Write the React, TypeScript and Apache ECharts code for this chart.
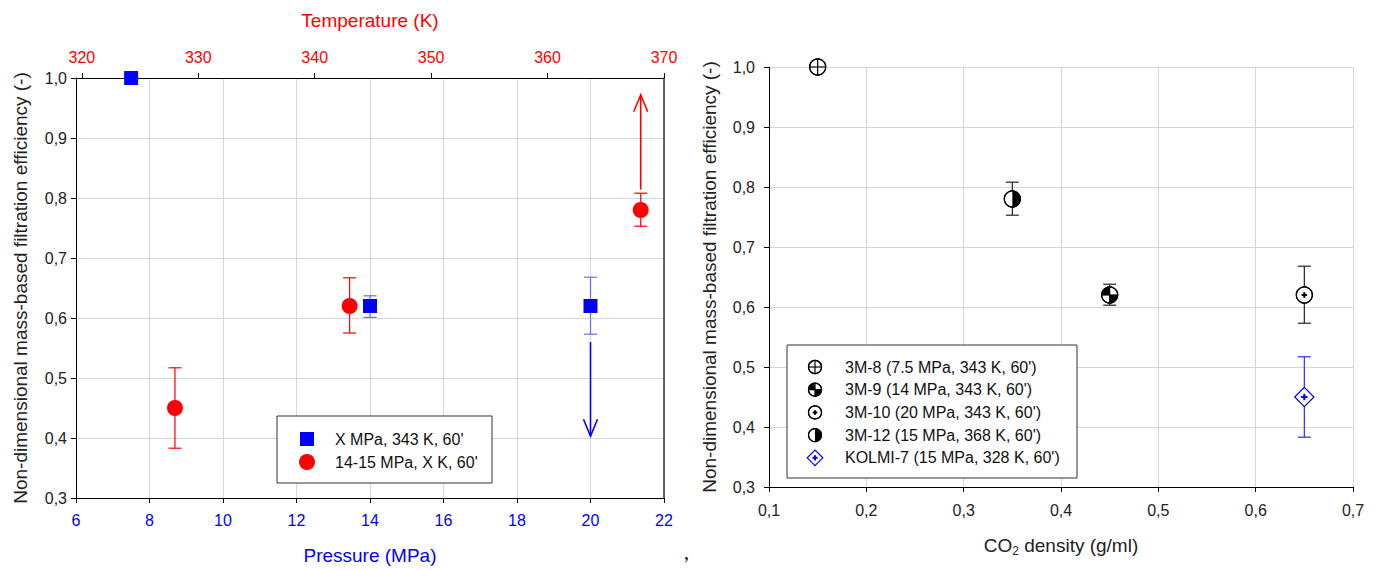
import React, { useEffect, useRef } from 'react';
import * as echarts from 'echarts';

// ---------- Left chart data ----------
const pressureTickMin = 6;
const pressureTickMax = 22;
const temperatureTicks = [320, 330, 340, 350, 360, 370];
const efficiencyMin = 0.3;
const efficiencyMax = 1.0;

// Series "X MPa, 343 K, 60'" (bottom axis: pressure)
const pressureX = [7.5, 14, 20];
const pressureY = [1.0, 0.62, 0.62];
const pressureErrLow: (number | null)[] = [null, 0.601, 0.573];
const pressureErrHigh: (number | null)[] = [null, 0.637, 0.668];

// Series "14-15 MPa, X K, 60'" (top axis: temperature)
const tempX = [328, 343, 368];
const tempY = [0.45, 0.62, 0.78];
const tempErrLow = [0.383, 0.575, 0.753];
const tempErrHigh = [0.517, 0.667, 0.808];

// Trend arrows [x, from, to]
const arrowTemp = [368, 0.814, 0.972];
const arrowPressure = [20, 0.56, 0.403];

// ---------- Right chart data ----------
const sampleNames = [
  "3M-8 (7.5 MPa, 343 K, 60')",
  "3M-9 (14 MPa, 343 K, 60')",
  "3M-10 (20 MPa, 343 K, 60')",
  "3M-12 (15 MPa, 368 K, 60')",
  "KOLMI-7 (15 MPa, 328 K, 60')",
];
const densityX = [0.15, 0.45, 0.65, 0.35, 0.65];
const densityY = [1.0, 0.62, 0.62, 0.78, 0.45];
const densityErrLow: (number | null)[] = [null, 0.603, 0.573, 0.753, 0.383];
const densityErrHigh: (number | null)[] = [null, 0.638, 0.668, 0.808, 0.517];
const markerKinds = ['cross', 'quad', 'dot', 'half', 'diamond'];

const FONT = '"Liberation Sans", Arial, sans-serif';
const BLUE = '#0000ff';
const RED = '#ff0000';
const GRID_COLOR = '#d6d6d6';

const comma = (v: number) => v.toFixed(1).replace('.', ',');

function errorBarEls(x: number, y1: number, y2: number, half: number, color: string) {
  const st = { stroke: color, lineWidth: 1.2 };
  return [
    { type: 'line', shape: { x1: x, y1, x2: x, y2 }, style: st },
    { type: 'line', shape: { x1: x - half, y1, x2: x + half, y2: y1 }, style: st },
    { type: 'line', shape: { x1: x - half, y1: y2, x2: x + half, y2 }, style: st },
  ];
}

function markerEls(kind: string, cx: number, cy: number, r: number): any[] {
  const k = '#000';
  const lw = 1.2;
  const circle = { type: 'circle', shape: { cx, cy, r }, style: { fill: '#fff', stroke: k, lineWidth: lw } };
  const outline = { type: 'circle', shape: { cx, cy, r }, style: { fill: 'none', stroke: k, lineWidth: lw } };
  const cross = [
    { type: 'line', shape: { x1: cx - r, y1: cy, x2: cx + r, y2: cy }, style: { stroke: k, lineWidth: lw } },
    { type: 'line', shape: { x1: cx, y1: cy - r, x2: cx, y2: cy + r }, style: { stroke: k, lineWidth: lw } },
  ];
  const sector = (s: number, e: number) => ({
    type: 'sector',
    shape: { cx, cy, r0: 0, r, startAngle: s, endAngle: e, clockwise: true },
    style: { fill: k },
  });
  const plus = (color: string, a: number) => [
    { type: 'rect', shape: { x: cx - a, y: cy - 1, width: 2 * a, height: 2 }, style: { fill: color } },
    { type: 'rect', shape: { x: cx - 1, y: cy - a, width: 2, height: 2 * a }, style: { fill: color } },
  ];
  switch (kind) {
    case 'cross':
      return [circle, ...cross, outline];
    case 'quad':
      return [circle, sector(Math.PI, Math.PI * 1.5), sector(0, Math.PI / 2), ...cross, outline];
    case 'dot':
      return [circle, ...plus(k, r * 0.35), outline];
    case 'half':
      return [circle, sector(-Math.PI / 2, Math.PI / 2), outline];
    case 'diamond': {
      const d = r * 1.2;
      return [
        {
          type: 'polygon',
          shape: { points: [[cx, cy - d], [cx + d, cy], [cx, cy + d], [cx - d, cy]] },
          style: { fill: '#fff', stroke: BLUE, lineWidth: lw },
        },
        ...plus(BLUE, r * 0.4),
      ];
    }
  }
  return [circle];
}

function arrowEls(x: number, y0: number, y1: number, color: string) {
  const dir = y1 > y0 ? 1 : -1;
  const st = { stroke: color, lineWidth: 1.6, fill: 'none' };
  return [
    { type: 'line', shape: { x1: x, y1: y0, x2: x, y2: y1 }, style: st },
    {
      type: 'polyline',
      shape: { points: [[x - 7, y1 - dir * 17], [x, y1], [x + 7, y1 - dir * 17]] },
      style: st,
    },
  ];
}

export default function App() {
  const ref = useRef<HTMLDivElement>(null);
  useEffect(() => {
    if (!ref.current) return;
    const chart = echarts.init(ref.current, undefined, { renderer: 'svg' });

    const tickLabel = (color: string, margin: number) => ({
      color,
      fontSize: 16,
      fontFamily: FONT,
      margin,
    });
    const axisLine = { show: true, lineStyle: { color: '#000', width: 1 } };
    const axisTick = { show: true, inside: false, length: 5, lineStyle: { color: '#000' } };
    const splitLine = { show: true, lineStyle: { color: GRID_COLOR, width: 1 } };
    const nameStyle = (color: string) => ({ color, fontSize: 19, fontFamily: FONT });

    const leftLegend = {
      type: 'group',
      z: 100,
      children: [
        { type: 'rect', z: 100, shape: { x: 277, y: 416, width: 215, height: 67 }, style: { fill: '#fff', stroke: '#333', lineWidth: 1 } },
        { type: 'rect', z: 101, shape: { x: 300, y: 432, width: 14, height: 14 }, style: { fill: BLUE } },
        { type: 'circle', z: 101, shape: { cx: 307, cy: 462, r: 8 }, style: { fill: RED } },
        { type: 'text', z: 101, x: 335, y: 439, style: { text: "X MPa, 343 K, 60'", font: `16px ${FONT}`, fill: '#111', verticalAlign: 'middle' } },
        { type: 'text', z: 101, x: 335, y: 462, style: { text: "14-15 MPa, X K, 60'", font: `16px ${FONT}`, fill: '#111', verticalAlign: 'middle' } },
      ],
    };

    const rightLegendChildren: any[] = [
      { type: 'rect', z: 100, shape: { x: 787, y: 345, width: 290, height: 133 }, style: { fill: '#fff', stroke: '#333', lineWidth: 1 } },
    ];
    sampleNames.forEach((name, i) => {
      const cy = 367 + i * 22.7;
      rightLegendChildren.push(...markerEls(markerKinds[i], 815, cy, 6.5).map((e) => ({ ...e, z: 101 })));
      rightLegendChildren.push({
        type: 'text', z: 101, x: 845, y: cy,
        style: { text: name, font: `16px ${FONT}`, fill: '#111', verticalAlign: 'middle' },
      });
    });

    chart.setOption({
      animation: false,
      backgroundColor: '#fff',
      grid: [
        { left: 76, top: 78, width: 588, height: 421 },
        { left: 769, top: 67, width: 584, height: 420 },
      ],
      xAxis: [
        {
          type: 'value', gridIndex: 0, position: 'bottom',
          min: pressureTickMin, max: pressureTickMax, interval: 2,
          axisLine, axisTick, splitLine,
          axisLabel: tickLabel(BLUE, 14),
          name: 'Pressure (MPa)', nameLocation: 'middle', nameGap: 48,
          nameTextStyle: nameStyle(BLUE),
        },
        {
          type: 'value', gridIndex: 0, position: 'top',
          min: 319.5, max: 370,
          axisLine, splitLine: { show: false },
          axisTick: { ...axisTick, customValues: temperatureTicks },
          axisLabel: { ...tickLabel(RED, 13), customValues: temperatureTicks },
          name: 'Temperature (K)', nameLocation: 'middle', nameGap: 48,
          nameTextStyle: nameStyle(RED),
        },
        {
          type: 'value', gridIndex: 1, position: 'bottom',
          min: 0.1, max: 0.7, interval: 0.1,
          axisLine, axisTick, splitLine,
          axisLabel: { ...tickLabel('#222', 15), formatter: comma },
          name: 'CO{sub|2} density (g/ml)', nameLocation: 'middle', nameGap: 46,
          nameTextStyle: {
            ...nameStyle('#222'),
            rich: { sub: { fontSize: 12, fontFamily: FONT, color: '#222', padding: [12, 0, 0, 0] } },
          },
        },
      ],
      yAxis: [
        {
          type: 'value', gridIndex: 0, position: 'left',
          min: efficiencyMin, max: efficiencyMax, interval: 0.1,
          axisLine, axisTick, splitLine,
          axisLabel: { ...tickLabel('#222', 9), formatter: comma },
          name: 'Non-dimensional mass-based filtration efficiency (-)', nameLocation: 'middle', nameGap: 46,
          nameTextStyle: nameStyle('#222'),
        },
        {
          type: 'value', gridIndex: 0, position: 'right',
          min: efficiencyMin, max: efficiencyMax,
          axisLine: { show: true, lineStyle: { color: '#333', width: 1.5 } },
          axisTick: { show: false }, axisLabel: { show: false }, splitLine: { show: false },
        },
        {
          type: 'value', gridIndex: 1, position: 'left',
          min: efficiencyMin, max: efficiencyMax, interval: 0.1,
          axisLine, axisTick, splitLine,
          axisLabel: { ...tickLabel('#222', 14), formatter: comma },
          name: 'Non-dimensional mass-based filtration efficiency (-)', nameLocation: 'middle', nameGap: 50,
          nameTextStyle: nameStyle('#222'),
        },
      ],
      series: [
        {
          type: 'custom', name: "X MPa, 343 K, 60'", xAxisIndex: 0, yAxisIndex: 0,
          encode: { x: 0, y: 1 }, z: 5,
          data: pressureX.map((x, i) => [x, pressureY[i]]),
          renderItem: (params: any, api: any) => {
            const i = params.dataIndex;
            const x = api.value(0);
            const p = api.coord([x, api.value(1)]);
            const children: any[] = [];
            const lo = pressureErrLow[i];
            const hi = pressureErrHigh[i];
            if (lo != null && hi != null) {
              const a = api.coord([x, lo]);
              const b = api.coord([x, hi]);
              children.push(...errorBarEls(p[0], a[1], b[1], 6.5, '#6a6aff'));
            }
            children.push({ type: 'rect', shape: { x: p[0] - 7, y: p[1] - 7, width: 14, height: 14 }, style: { fill: BLUE } });
            return { type: 'group', children };
          },
        },
        {
          type: 'custom', name: "14-15 MPa, X K, 60'", xAxisIndex: 1, yAxisIndex: 0,
          encode: { x: 0, y: 1 }, z: 5,
          data: tempX.map((x, i) => [x, tempY[i]]),
          renderItem: (params: any, api: any) => {
            const i = params.dataIndex;
            const x = api.value(0);
            const p = api.coord([x, api.value(1)]);
            const a = api.coord([x, tempErrLow[i]]);
            const b = api.coord([x, tempErrHigh[i]]);
            return {
              type: 'group',
              children: [
                ...errorBarEls(p[0], a[1], b[1], 6.5, RED),
                { type: 'circle', shape: { cx: p[0], cy: p[1], r: 8 }, style: { fill: RED } },
              ],
            };
          },
        },
        {
          type: 'custom', xAxisIndex: 1, yAxisIndex: 0, encode: { x: 0, y: 1 }, z: 4,
          data: [arrowTemp],
          renderItem: (params: any, api: any) => {
            const a = api.coord([api.value(0), api.value(1)]);
            const b = api.coord([api.value(0), api.value(2)]);
            return { type: 'group', children: arrowEls(a[0], a[1], b[1], RED) };
          },
        },
        {
          type: 'custom', xAxisIndex: 0, yAxisIndex: 0, encode: { x: 0, y: 1 }, z: 4,
          data: [arrowPressure],
          renderItem: (params: any, api: any) => {
            const a = api.coord([api.value(0), api.value(1)]);
            const b = api.coord([api.value(0), api.value(2)]);
            return { type: 'group', children: arrowEls(a[0], a[1], b[1], BLUE) };
          },
        },
        {
          type: 'custom', xAxisIndex: 2, yAxisIndex: 2, encode: { x: 0, y: 1 }, z: 5,
          data: densityX.map((x, i) => [x, densityY[i]]),
          renderItem: (params: any, api: any) => {
            const i = params.dataIndex;
            const x = api.value(0);
            const p = api.coord([x, api.value(1)]);
            const children: any[] = [];
            const lo = densityErrLow[i];
            const hi = densityErrHigh[i];
            if (lo != null && hi != null) {
              const a = api.coord([x, lo]);
              const b = api.coord([x, hi]);
              children.push(...errorBarEls(p[0], a[1], b[1], 6.5, markerKinds[i] === 'diamond' ? '#2a2aff' : '#222'));
            }
            children.push(...markerEls(markerKinds[i], p[0], p[1], 8));
            return { type: 'group', children };
          },
        },
      ],
      graphic: [
        leftLegend,
        { type: 'group', z: 100, children: rightLegendChildren },
        { type: 'text', z: 100, x: 684, y: 542, style: { text: ',', font: '20px "Liberation Serif", serif', fill: '#000' } },
      ],
    });
    return () => chart.dispose();
  }, []);
  return (
    <div
      ref={ref}
      style={{ position: 'fixed', left: 0, top: 0, width: 1376, height: 570, background: '#fff' }}
    />
  );
}
